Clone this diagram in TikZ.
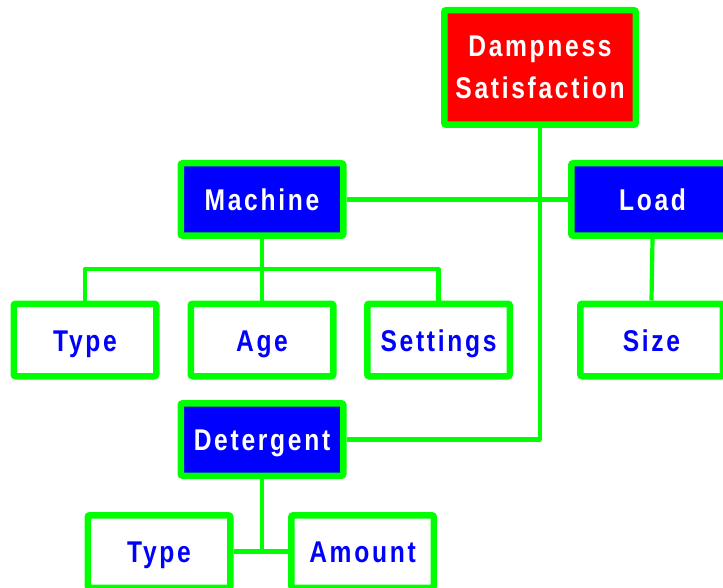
\documentclass[tikz,border=0pt]{standalone}
\usepackage{fontspec}
\newfontfamily\boxfont[FakeStretch=0.82,LetterSpace=9]{Liberation Sans Bold}
\definecolor{lgreen}{HTML}{00FF00}
\definecolor{pblue}{HTML}{0000FF}
\definecolor{pred}{HTML}{FF0000}
\begin{document}
\begin{tikzpicture}[x=1pt,y=-1pt,
  box/.style={draw=lgreen,line width=6.5pt,rounded corners=2pt,inner sep=0pt,
    font={\boxfont\fontsize{30}{42}\selectfont}},
  onebox/.style={box,text height=22pt,text depth=0pt},
  bluebox/.style={onebox,fill=pblue,text=white,minimum width=162.5pt,minimum height=72.5pt},
  whitebox/.style={onebox,fill=white,text=pblue,minimum width=142.5pt,minimum height=72.5pt},
  redbox/.style={box,align=center,fill=pred,text=white,minimum width=191.5pt,minimum height=114.5pt},
  link/.style={draw=lgreen,line width=4.2pt,line join=round}]
\useasboundingbox (0,0) rectangle (723,588);
\clip (0,0) rectangle (723,588);
\node[redbox] (damp) at (540,67.5) {Dampness\\Satisfaction};
\node[bluebox] (mach) at (262,199.5) {Machine};
\node[bluebox] (load) at (652.5,199.5) {Load};
\node[bluebox] (det) at (262,439.5) {Detergent};
\node[whitebox] (type1) at (85,340) {Type};
\node[whitebox] (age) at (262,340) {Age};
\node[whitebox] (set) at (438.5,340) {Settings};
\node[whitebox] (size) at (651.5,340) {Size};
\node[whitebox] (type2) at (159,551.5) {Type};
\node[whitebox] (amount) at (362.5,551.5) {Amount};
\coordinate (mj) at (262,269);
\path[link] (damp.south) |- (det.east);
\path[link] (mach.east) -- (load.west);
\path[link] (mach.south) -- (age.north);
\path[link] (type1.north) -- (type1.north |- mj) -- (set.north |- mj) -- (set.north);
\path[link] (load.south) -- (size.north);
\path[link] (det.south) -- (det.south |- type2.east);
\path[link] (type2.east) -- (amount.west);
\end{tikzpicture}
\end{document}
